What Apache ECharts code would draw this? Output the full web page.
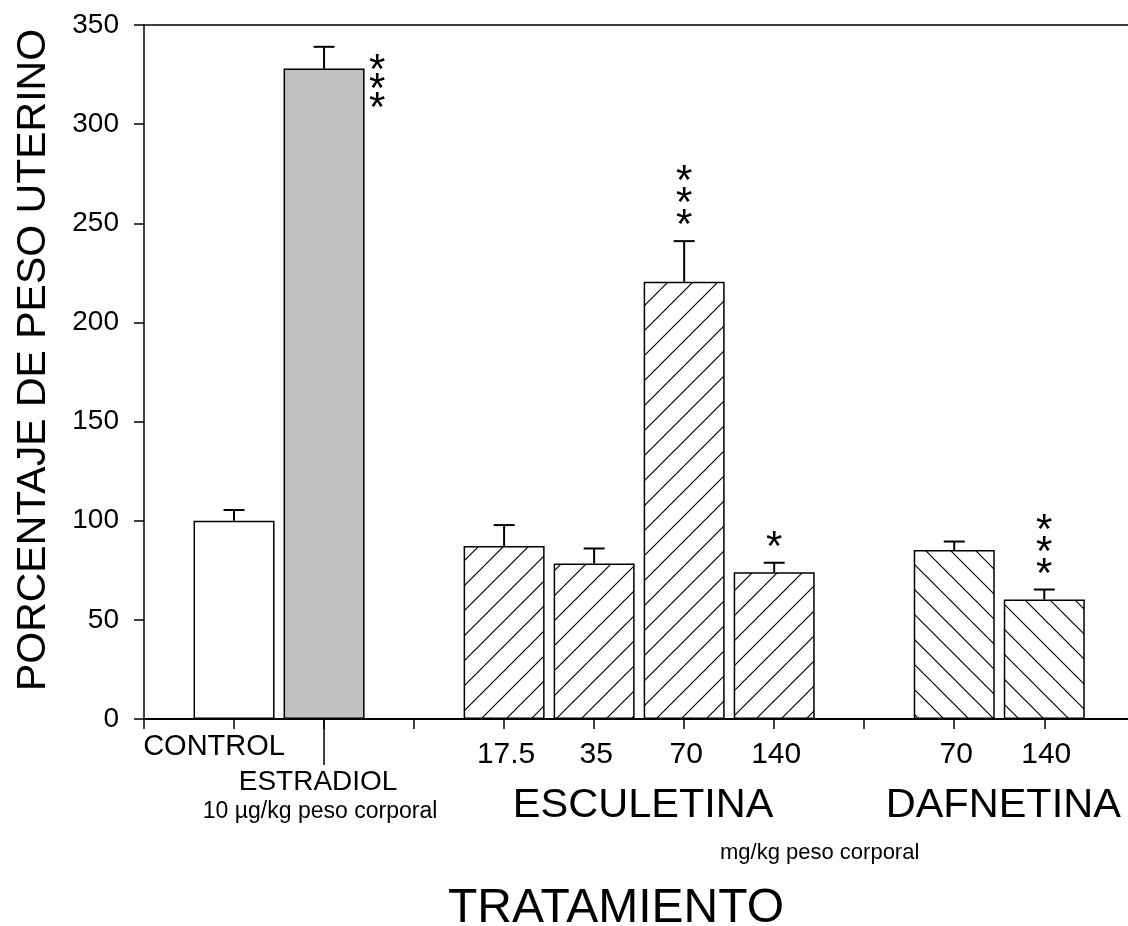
<!DOCTYPE html>
<html>
<head>
<meta charset="utf-8">
<script src="https://cdn.jsdelivr.net/npm/echarts@6/dist/echarts.min.js"></script>
<style>
  html, body { margin: 0; padding: 0; background: #fff; }
  #chart { width: 1128px; height: 926px; }
</style>
</head>
<body>
<div id="chart"></div>
<script>
// Uterine weight (% of control) per treatment group, mean and SEM
const doseLabels = ['CONTROL', 'ESTRADIOL', '17.5', '35', '70', '140', '70', '140'];
const treatment = ['CONTROL', 'ESTRADIOL', 'ESCULETINA', 'ESCULETINA', 'ESCULETINA', 'ESCULETINA', 'DAFNETINA', 'DAFNETINA'];
const meanPct = [100, 328, 87.2, 78.4, 220.5, 74, 85.2, 60.3];
const semPct = [5.4, 11, 10.6, 7.6, 20.5, 4.8, 4.3, 5];
const stars = [0, 3, 0, 0, 3, 1, 0, 3];
const compoundNames = ['ESCULETINA', 'DAFNETINA'];
const yTicks = [0, 50, 100, 150, 200, 250, 300, 350];
const estradiolDose = '10 µg/kg peso corporal';
const compoundDoseUnit = 'mg/kg peso corporal';

const FONT = '"Liberation Sans", Arial, Helvetica, sans-serif';

// slot position on the x axis: one empty slot between the reference pair and each compound
const clusterOf = t => (compoundNames.includes(t) ? t : 'ref');
const slots = [];
(function () {
  let s = 0, prev = null;
  treatment.forEach(t => {
    const c = clusterOf(t);
    s += (prev === null || c === prev) ? 1 : 2;
    prev = c;
    slots.push(s);
  });
})();
const lastSlot = slots[slots.length - 1];
const tickSlots = [];
for (let k = 0; k <= lastSlot; k++) tickSlots.push(k);

// hatch fills
function hatch(dir) {
  const s = 25;
  const c = document.createElement('canvas');
  c.width = s; c.height = s;
  const g = c.getContext('2d');
  g.fillStyle = '#fff';
  g.fillRect(0, 0, s, s);
  g.strokeStyle = '#000';
  g.lineWidth = 1.2;
  g.beginPath();
  if (dir === '/') {
    g.moveTo(-2, s + 2); g.lineTo(s + 2, -2);
    g.moveTo(-2, 2); g.lineTo(2, -2);
    g.moveTo(s - 2, s + 2); g.lineTo(s + 2, s - 2);
  } else {
    g.moveTo(-2, -2); g.lineTo(s + 2, s + 2);
    g.moveTo(s - 2, -2); g.lineTo(s + 2, 2);
    g.moveTo(-2, s - 2); g.lineTo(2, s + 2);
  }
  g.stroke();
  return { image: c, repeat: 'repeat' };
}
const fills = {
  CONTROL: '#ffffff',
  ESTRADIOL: '#c0c0c0',
  ESCULETINA: hatch('/'),
  DAFNETINA: hatch('\\')
};

const groupCenters = compoundNames.map(name => {
  const xs = slots.filter((x, i) => treatment[i] === name);
  return [(xs[0] + xs[xs.length - 1]) / 2, 0];
});

const txt = (text, x, y, size) => ({
  type: 'text',
  style: { text, x, y, font: size + 'px ' + FONT, fill: '#000', align: 'center', verticalAlign: 'middle' }
});

const X_MAX = 10.93;
const chart = echarts.init(document.getElementById('chart'), null, { renderer: 'canvas' });

chart.setOption({
  backgroundColor: '#fff',
  animation: false,
  textStyle: { fontFamily: FONT, color: '#000' },
  grid: { left: 144, right: 0, top: 25, bottom: 207, containLabel: false, outerBoundsMode: 'none' },
  xAxis: [{
    type: 'value',
    min: 0,
    max: X_MAX,
    interval: 1,
    splitLine: { show: false },
    axisLine: { lineStyle: { color: '#000', width: 2.2 } },
    axisTick: { length: 10, customValues: tickSlots, lineStyle: { color: '#000', width: 1.5 } },
    axisLabel: { show: false },
    name: 'TRATAMIENTO',
    nameLocation: 'middle',
    nameGap: 166,
    nameTextStyle: { fontSize: 48, color: '#000', fontFamily: FONT, verticalAlign: 'top', padding: [0, 40, 0, 0] }
  }, {
    type: 'value',
    position: 'top',
    min: 0,
    max: X_MAX,
    splitLine: { show: false },
    axisLine: { lineStyle: { color: '#000', width: 1.5 } },
    axisTick: { show: false },
    axisLabel: { show: false }
  }],
  yAxis: {
    type: 'value',
    min: yTicks[0],
    max: yTicks[yTicks.length - 1],
    interval: yTicks[1] - yTicks[0],
    splitLine: { show: false },
    axisLine: { show: true, lineStyle: { color: '#000', width: 1.5 } },
    axisTick: { show: true, length: 10, lineStyle: { color: '#000', width: 1.5 } },
    axisLabel: { fontSize: 28, margin: 25, color: '#000', fontFamily: FONT },
    name: 'PORCENTAJE DE PESO UTERINO',
    nameLocation: 'middle',
    nameGap: 90,
    nameTextStyle: { fontSize: 41, color: '#000', fontFamily: FONT, padding: [0, 0, 0, 24] }
  },
  series: [
    {
      name: 'bars',
      type: 'bar',
      barWidth: 81,
      data: slots.map((x, i) => ({
        value: [x, meanPct[i]],
        itemStyle: { color: fills[treatment[i]] }
      })),
      itemStyle: { borderColor: '#000', borderWidth: 1.5 }
    },
    {
      name: 'sem',
      type: 'custom',
      z: 3,
      data: slots.map((x, i) => [x, meanPct[i], semPct[i]]),
      renderItem: (params, api) => {
        const x = api.value(0), m = api.value(1), e = api.value(2);
        const p0 = api.coord([x, m]);
        const p1 = api.coord([x, m + e]);
        const st = { stroke: '#000', lineWidth: 2 };
        return {
          type: 'group',
          children: [
            { type: 'line', shape: { x1: p0[0], y1: p0[1], x2: p1[0], y2: p1[1] }, style: st },
            { type: 'line', shape: { x1: p1[0] - 10.5, y1: p1[1], x2: p1[0] + 10.5, y2: p1[1] }, style: st }
          ]
        };
      }
    },
    {
      name: 'significance',
      type: 'custom',
      z: 4,
      data: slots.map((x, i) => [x, meanPct[i], semPct[i], stars[i], treatment[i] === 'ESTRADIOL' ? 1 : 0]),
      renderItem: (params, api) => {
        const x = api.value(0), m = api.value(1), e = api.value(2);
        const n = api.value(3), beside = api.value(4);
        const children = [];
        const size = 42, lift = 7;
        if (beside) {
          const top = api.coord([x, m]);
          for (let k = 0; k < n; k++) {
            children.push(txt('*', top[0] + 53, top[1] - 7 + k * 19 + lift + 3, size));
          }
        } else {
          const cap = api.coord([x, m + e]);
          for (let k = 0; k < n; k++) {
            children.push(txt('*', cap[0], cap[1] - 21.5 - k * 22 + lift, size));
          }
        }
        return { type: 'group', children };
      }
    },
    {
      name: 'doseLabels',
      type: 'custom',
      z: 2,
      data: slots.map(x => [x, 0]),
      renderItem: (params, api) => {
        const i = params.dataIndex;
        const p = api.coord([api.value(0), api.value(1)]);
        if (treatment[i] === 'CONTROL') {
          return txt(doseLabels[i], p[0] - 20, p[1] + 28, 29);
        }
        if (treatment[i] === 'ESTRADIOL') {
          return {
            type: 'group',
            children: [
              { type: 'line', shape: { x1: p[0], y1: p[1], x2: p[0], y2: p[1] + 46 },
                style: { stroke: '#000', lineWidth: 1.5 } },
              txt(doseLabels[i], p[0] - 6, p[1] + 63, 28),
              txt(estradiolDose, p[0] - 4, p[1] + 93, 23)
            ]
          };
        }
        return txt(doseLabels[i], p[0] + 2, p[1] + 36, 30);
      }
    },
    {
      name: 'compounds',
      type: 'custom',
      z: 2,
      data: groupCenters,
      renderItem: (params, api) => {
        const p = api.coord([api.value(0), api.value(1)]);
        return txt(compoundNames[params.dataIndex], p[0] + 4, p[1] + 87, 41.5);
      }
    }
  ],
  graphic: [{
    type: 'text',
    left: 720,
    top: 842,
    style: { text: compoundDoseUnit, font: '22px ' + FONT, fill: '#000' }
  }]
});
</script>
</body>
</html>
